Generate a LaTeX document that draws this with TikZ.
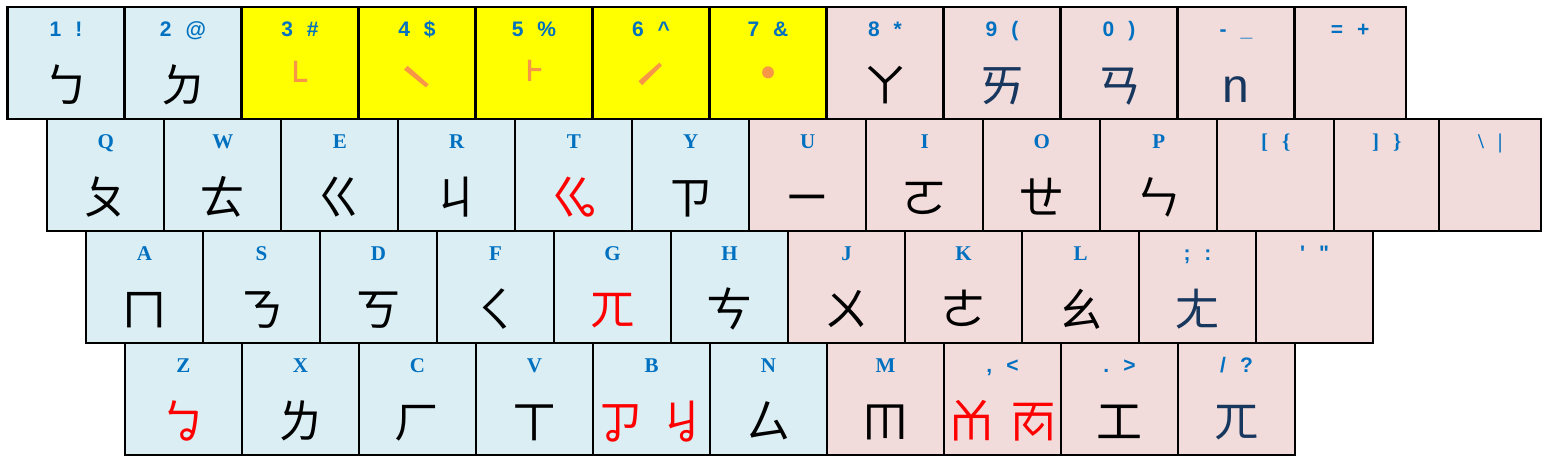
\documentclass[tikz,border=0pt]{standalone}
\usepackage{fontspec}
\setmainfont{Liberation Serif}
\newfontfamily\cjk{Noto Sans CJK TC}
\newfontfamily\lsans{Liberation Sans}
\definecolor{kblue}{HTML}{DAEEF3}
\definecolor{kpink}{HTML}{F2DCDB}
\definecolor{kyel}{HTML}{FFFF00}
\definecolor{lblue}{HTML}{0070C0}
\definecolor{torange}{HTML}{F79646}
\definecolor{knavy}{HTML}{17375E}
\definecolor{kred}{HTML}{FF0000}
\tikzset{
  keybox/.style={draw=black, line width=2.2pt, minimum height=112pt, anchor=north west, inner sep=0pt, outer sep=0pt},
  klabel/.style={font=\bfseries\fontsize{21}{22}\selectfont, text=lblue, anchor=base, inner sep=0pt},
  kchar/.style={font=\cjk\fontsize{46}{46}\selectfont, anchor=base, inner sep=0pt},
  ktone/.style={text=torange, anchor=base, inner sep=0pt},
}
\newcommand\lsp[2]{{\lsans #1\hspace{14pt}#2}}
\newcommand\lrp[2]{#1\hspace{14pt}#2}
\newcommand\kbkey[7]{%
  \node[keybox, minimum width=#4, fill=#5] (#1) at (#2,#3) {};
  \node[klabel] (#1l) at ([yshift=-29.5pt]#1.north) {#6};
  \node[kchar] (#1c) at ([yshift=-95pt]#1.north) {#7};
}
\newcommand\kbempty[6]{%
  \node[keybox, minimum width=#4, fill=#5] (#1) at (#2,#3) {};
  \node[klabel] (#1l) at ([yshift=-29.5pt]#1.north) {#6};
}
% name, x, label, mark, font size, baseline offset
\newcommand\kbtone[6]{%
  \node[keybox, minimum width=117, fill=kyel] (#1) at (#2,7) {};
  \node[klabel] (#1l) at ([yshift=-29.5pt]#1.north) {#3};
  \node[ktone, font=\cjk\fontsize{#5}{#5}\selectfont] (#1c) at ([yshift=-#6pt]#1.north) {#4};
}
\begin{document}
\begin{tikzpicture}[x=1pt,y=-1pt]
\useasboundingbox (0,0) rectangle (1551,463);
% row 1
\kbkey{k1}{7.5}{7}{117}{kblue}{\lsp{1}{!}}{ㄅ}
\kbkey{k2}{124.5}{7}{117}{kblue}{\lsp{2}{@}}{ㄉ}
\kbtone{k3}{241.5}{\lsp{3}{\#}}{˪}{42}{89.5}
\kbtone{k4}{358.5}{\lsp{4}{\$}}{ˋ}{64}{111}
\kbtone{k5}{475.5}{\lsp{5}{\%}}{˫}{42}{88}
\kbtone{k6}{592.5}{\lsp{6}{\textasciicircum}}{ˊ}{64}{110}
\kbtone{k7}{709.5}{\lsp{7}{\&}}{˙}{64}{90}
\kbkey{k8}{826.5}{7}{117}{kpink}{\lsp{8}{*}}{ㄚ}
\kbkey{k9}{943.5}{7}{117}{kpink}{\lsp{9}{(}}{\color{knavy}ㄞ}
\kbkey{k0}{1060.5}{7}{117}{kpink}{\lsp{0}{)}}{\color{knavy}ㄢ}
\kbkey{kmin}{1177.5}{7}{117}{kpink}{\lsp{-}{\_}}{\color{knavy}\lsans\fontsize{48}{48}\selectfont n}
\kbempty{keq}{1294.5}{7}{111.5}{kpink}{\lsp{=}{+}}
% row 2
\kbkey{kQ}{47.3}{119}{117}{kblue}{Q}{ㄆ}
\kbkey{kW}{164.3}{119}{117}{kblue}{W}{ㄊ}
\kbkey{kE}{281.3}{119}{117}{kblue}{E}{ㄍ}
\kbkey{kR}{398.3}{119}{117}{kblue}{R}{ㄐ}
\kbkey{kT}{515.3}{119}{117}{kblue}{T}{\color{kred}ㆣ}
\kbkey{kY}{632.3}{119}{117}{kblue}{Y}{ㄗ}
\kbkey{kU}{749.3}{119}{117}{kpink}{U}{ㄧ}
\kbkey{kI}{866.3}{119}{117}{kpink}{I}{ㄛ}
\kbkey{kO}{983.3}{119}{117}{kpink}{O}{ㄝ}
\kbkey{kP}{1100.3}{119}{117}{kpink}{P}{ㄣ}
\kbempty{klb}{1217.3}{119}{117}{kpink}{\lrp{[}{\{}}
\kbempty{krb}{1334.3}{119}{105}{kpink}{\lrp{]}{\}}}
\kbempty{kbs}{1439.3}{119}{102}{kpink}{\lrp{\textbackslash}{|}}
% row 3
\kbkey{kA}{86}{231}{117}{kblue}{A}{ㄇ}
\kbkey{kS}{203}{231}{117}{kblue}{S}{ㄋ}
\kbkey{kD}{320}{231}{117}{kblue}{D}{ㄎ}
\kbkey{kF}{437}{231}{117}{kblue}{F}{ㄑ}
\kbkey{kG}{554}{231}{117}{kblue}{G}{\color{kred}ㄫ}
\kbkey{kH}{671}{231}{117}{kblue}{H}{ㄘ}
\kbkey{kJ}{788}{231}{117}{kpink}{J}{ㄨ}
\kbkey{kK}{905}{231}{117}{kpink}{K}{ㄜ}
\kbkey{kL}{1022}{231}{117}{kpink}{L}{ㄠ}
\kbkey{ksc}{1139}{231}{117}{kpink}{\lsp{;}{:}}{\color{knavy}ㄤ}
\kbempty{kqt}{1256}{231}{117}{kpink}{\lsp{'}{"}}
% row 4
\kbkey{kZ}{125}{343}{117}{kblue}{Z}{\color{kred}ㆠ}
\kbkey{kX}{242}{343}{117}{kblue}{X}{ㄌ}
\kbkey{kC}{359}{343}{117}{kblue}{C}{ㄏ}
\kbkey{kV}{476}{343}{117}{kblue}{V}{ㄒ}
\kbkey{kB}{593}{343}{117}{kblue}{B}{\color{kred}ㆡ\hspace{16pt}ㆢ}
\kbkey{kN}{710}{343}{117}{kblue}{N}{ㄙ}
\kbkey{kM}{827}{343}{117}{kpink}{M}{ㆬ}
\kbkey{kcm}{944}{343}{117}{kpink}{\lsp{,}{<}}{\color{kred}ㆰ\hspace{16pt}ㆱ}
\kbkey{kpd}{1061}{343}{117}{kpink}{\lsp{.}{>}}{工}
\kbkey{ksl}{1178}{343}{117}{kpink}{\lsp{/}{?}}{\color{knavy}ㄫ}
\end{tikzpicture}
\end{document}
